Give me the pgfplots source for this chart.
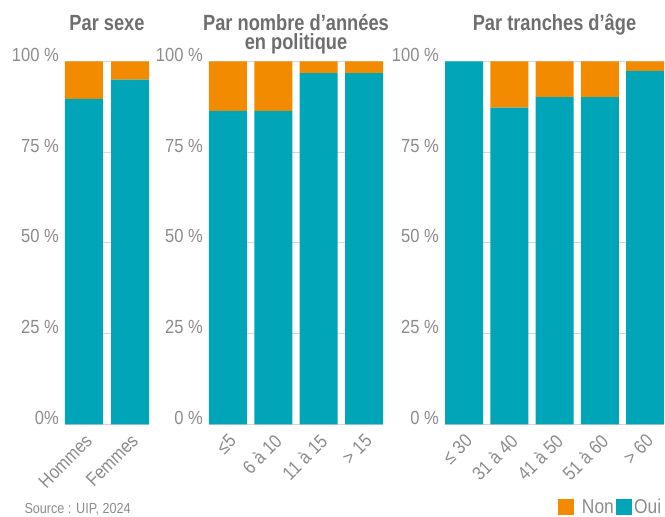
\documentclass[border=0pt]{standalone}
\usepackage{pgfplots}
\pgfplotsset{compat=1.18}
\usepackage{fontspec}
\setmainfont{Liberation Sans}[FakeStretch=0.87]
\newfontfamily\titlefont{Liberation Sans}[FakeStretch=0.83]
\definecolor{cTeal}{HTML}{00A5B7}
\definecolor{cOrange}{HTML}{F28B00}
\definecolor{cTick}{HTML}{8C8C8C}
\definecolor{cTitle}{HTML}{6E6E6E}
\definecolor{cGrid}{HTML}{D6D6D6}
\pgfplotsset{
  panel/.style={
    scale only axis, height=362.8pt, ybar stacked, bar width=38pt,
    ymin=0, ymax=100, ytick={0,25,50,75,100},
    ymajorgrids, grid style={cGrid, line width=1pt},
    axis line style={draw=none}, major tick length=0pt,
    clip=false, xtick=data,
    yticklabel style={anchor=base east, inner sep=0pt, xshift=-6pt, font=\fontsize{19}{22}\selectfont, text=cTick},
    xticklabel style={rotate=45, anchor=north east, inner sep=6pt, font=\fontsize{19}{22}\selectfont, text=cTick},
  }
}
\begin{document}
\begin{tikzpicture}
\path[use as bounding box] (0pt,0pt) rectangle (665pt,517pt);
% Panel 1
\begin{axis}[panel, at={(65pt,92.7pt)}, anchor=south west, width=84pt,
  xmin=-0.413, xmax=1.413, xticklabels={Hommes,Femmes},
  yticklabels={0\%,25~\%,50~\%,75~\%,100~\%}]
\addplot[fill=cTeal, draw=none] coordinates {(0,89.7) (1,95.0)};
\addplot[fill=cOrange, draw=none] coordinates {(0,10.3) (1,5.0)};
\end{axis}
% Panel 2
\begin{axis}[panel, at={(209pt,92.7pt)}, anchor=south west, width=174pt,
  xmin=-0.419, xmax=3.419, xticklabels={≤5,6 à 10,11 à 15,> 15},
  yticklabels={0~\%,25~\%,50~\%,75~\%,100~\%}]
\addplot[fill=cTeal, draw=none] coordinates {(0,86.4) (1,86.4) (2,96.8) (3,96.8)};
\addplot[fill=cOrange, draw=none] coordinates {(0,13.6) (1,13.6) (2,3.2) (3,3.2)};
\end{axis}
% Panel 3
\begin{axis}[panel, at={(445pt,92.7pt)}, anchor=south west, width=219pt,
  xmin=-0.42, xmax=4.42, xticklabels={≤ 30,31 à 40,41 à 50,51 à 60,> 60},
  yticklabels={0~\%,25~\%,50~\%,75~\%,100~\%},
  legend columns=2,
  legend style={at={(0.997,-0.228)}, anchor=east, draw=none, fill=none, inner sep=0pt,
    font=\fontsize{20}{22}\selectfont, text=cTick,
    /tikz/every even column/.append style={column sep=0pt}}]
\addplot[fill=cTeal, draw=none, forget plot] coordinates {(0,100) (1,87.3) (2,90.2) (3,90.2) (4,97.4)};
\addplot[fill=cOrange, draw=none, forget plot] coordinates {(0,0) (1,12.7) (2,9.8) (3,9.8) (4,2.6)};
\addlegendimage{legend image code/.code={\fill[cOrange] (0pt,-7.5pt) rectangle (15pt,7.5pt); \path[draw=none,fill=none] (0pt,0pt) -- (22pt,0pt);}}
\addlegendentry{Non}
\addlegendimage{legend image code/.code={\fill[cTeal] (0pt,-7.5pt) rectangle (15pt,7.5pt); \path[draw=none,fill=none] (0pt,0pt) -- (16pt,0pt);}}
\addlegendentry{Oui}
\end{axis}
% Titles
\begin{scope}[every node/.style={anchor=base, text=cTitle, font=\titlefont\bfseries\fontsize{22}{17}\selectfont}]
\node at (107pt,486pt) {Par sexe};
\node at (296pt,486pt) {Par nombre d’années};
\node at (296pt,467.5pt) {en politique};
\node at (554.5pt,486pt) {Par tranches d’âge};
\end{scope}
\node[anchor=base west, text=cTick, font=\fontsize{14.5}{16}\selectfont] at (21pt,3pt) {Source : UIP, 2024};
\end{tikzpicture}
\end{document}
